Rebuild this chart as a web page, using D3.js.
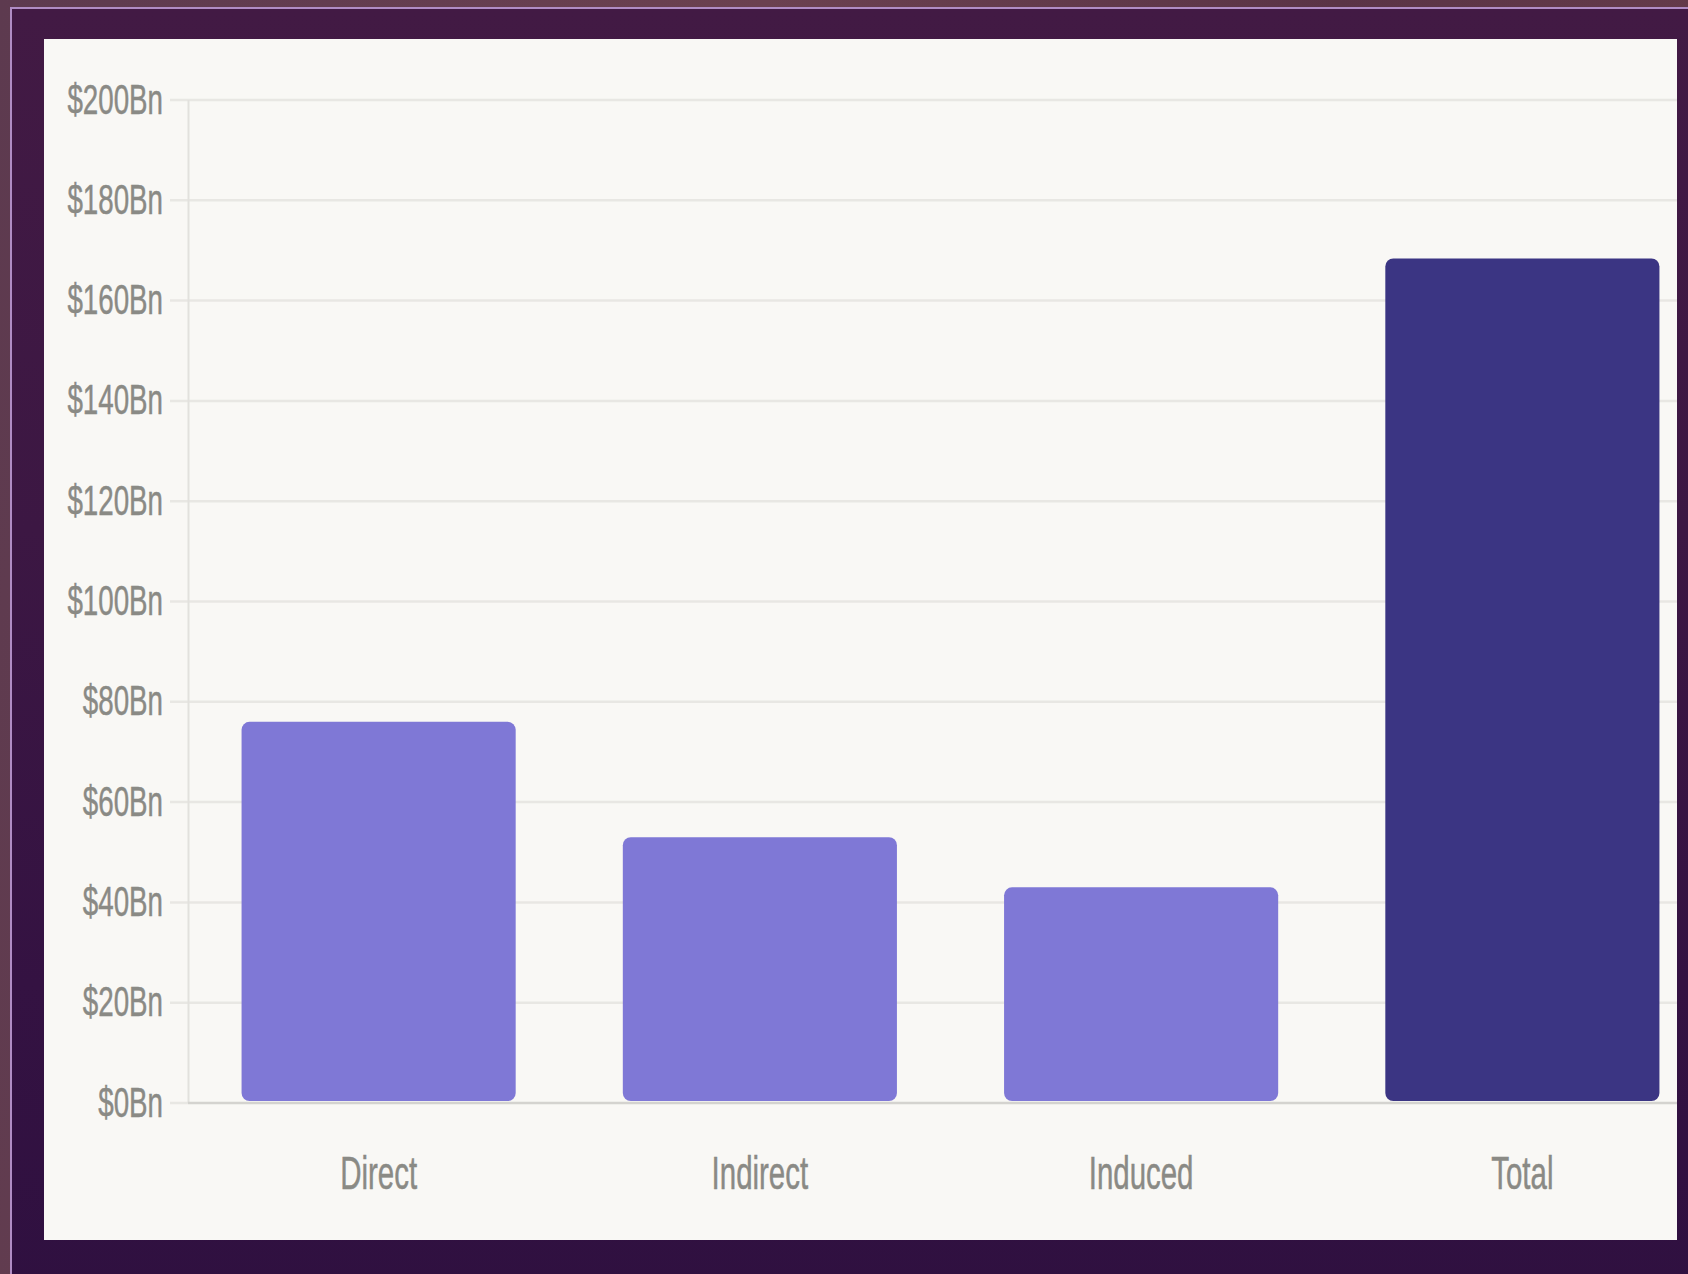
<!DOCTYPE html>
<html>
<head>
<meta charset="utf-8">
<script src="https://cdn.jsdelivr.net/npm/d3@7"></script>
<style>
  html, body { margin: 0; padding: 0; width: 1688px; height: 1274px; overflow: hidden; }
  body { background: linear-gradient(100deg, #5d3a4f 0%, #6b4150 40%, #5a3446 70%, #6a3f4c 100%); position: relative; }
  #frame { position: absolute; left: 10px; top: 7px; width: 1700px; height: 1300px;
    border-left: 2px solid #b08cc4; border-top: 2px solid #b08cc4;
    background: linear-gradient(180deg, #421a44 0%, #3c1743 40%, #341242 75%, #2f1040 100%); }
  #card { position: absolute; left: 44px; top: 39px; width: 1633px; height: 1201px; background: #f9f8f5; overflow: hidden; }
  svg text { font-family: "Liberation Sans", Arial, Helvetica, sans-serif; fill: #8a8a85; stroke: #8a8a85; stroke-width: 0.5px; }
</style>
</head>
<body>
<div id="frame"></div>
<div id="card"></div>
<script>
const categories = ["Direct", "Indirect", "Induced", "Total"];
const values = [76, 53, 43, 168.4];
const barColors = ["#7f78d6", "#7f78d6", "#7f78d6", "#3b3583"];
const yTicks = [0, 20, 40, 60, 80, 100, 120, 140, 160, 180, 200];
const yTickLabels = yTicks.map(v => "$" + v + "Bn");

const W = 1633, H = 1201;
const svg = d3.select("#card").append("svg").attr("width", W).attr("height", H);

const x = d3.scaleBand().domain(categories).range([144, 1669]).paddingInner(0.281).paddingOuter(0.1405);
const y = d3.scaleLinear().domain([0, 200]).range([1064, 61]);

// gridlines + ticks
svg.append("g").selectAll("line").data(yTicks.slice(1)).join("line")
  .attr("x1", 126).attr("x2", W).attr("y1", d => y(d)).attr("y2", d => y(d))
  .attr("stroke", "#e8e7e3").attr("stroke-width", 2.5);
// zero tick
svg.append("line").attr("x1", 126).attr("x2", 144).attr("y1", y(0)).attr("y2", y(0))
  .attr("stroke", "#e8e7e3").attr("stroke-width", 2.5);
// y axis line
svg.append("line").attr("x1", 144.5).attr("x2", 144.5).attr("y1", y(200)).attr("y2", y(0))
  .attr("stroke", "#e2e1dd").attr("stroke-width", 2);

// y labels
svg.append("g").selectAll("text").data(yTicks).join("text")
  .attr("transform", d => `translate(119,${y(d) + 13.5}) scale(0.645,1)`)
  .attr("text-anchor", "end").attr("font-size", 43)
  .text((d, i) => yTickLabels[i]);

// bars
svg.append("g").selectAll("rect").data(values).join("rect")
  .attr("x", (d, i) => x(categories[i]))
  .attr("width", x.bandwidth())
  .attr("y", d => y(d))
  .attr("height", d => y(0) - 2 - y(d))
  .attr("rx", 8).attr("ry", 8)
  .attr("fill", (d, i) => barColors[i]);

// x axis line
svg.append("line").attr("x1", 144).attr("x2", W).attr("y1", y(0)).attr("y2", y(0))
  .attr("stroke", "#d4d3cf").attr("stroke-width", 2.5);

// x labels
svg.append("g").selectAll("text").data(categories).join("text")
  .attr("transform", d => `translate(${x(d) + x.bandwidth() / 2},1150) scale(0.64,1)`)
  .attr("text-anchor", "middle").attr("font-size", 46)
  .text(d => d);
</script>
</body>
</html>
